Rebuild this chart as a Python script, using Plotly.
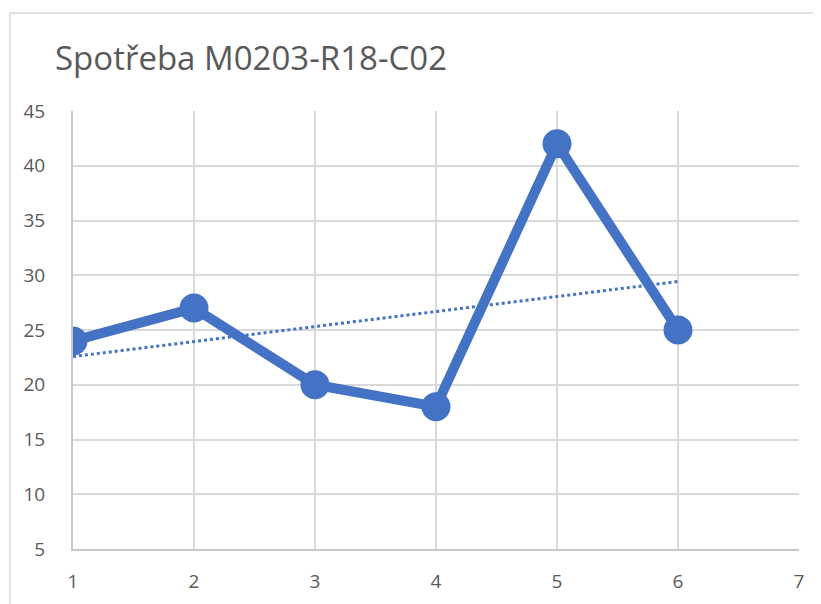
import plotly.graph_objects as go
import numpy as np

x_vals = [1, 2, 3, 4, 5, 6]
y_vals = [24, 27, 20, 18, 42, 25]
title_text = "Spotřeba M0203-R18-C02"
x_ticks = [1, 2, 3, 4, 5, 6, 7]
y_ticks = [5, 10, 15, 20, 25, 30, 35, 40, 45]

# linear trendline (least squares)
slope, intercept = np.polyfit(x_vals, y_vals, 1)
trend_x = [x_vals[0], x_vals[-1]]
trend_y = [slope * v + intercept for v in trend_x]

blue = "#4472C4"
grid = "#d9d9d9"
txt = "#595959"

fig = go.Figure()
fig.add_trace(go.Scatter(x=x_vals, y=y_vals, mode="lines+markers",
                         line=dict(color=blue, width=10),
                         marker=dict(color=blue, size=29),
                         showlegend=False, hoverinfo="skip"))
fig.add_trace(go.Scatter(x=trend_x, y=trend_y, mode="lines",
                         line=dict(color=blue, width=3, dash="dot"),
                         showlegend=False, hoverinfo="skip"))

OFF = 8  # page offset of the figure
W, H = 821, 604
L = 73 - OFF
T = 111 - OFF
R = W - (799 - OFF)
B = H - (549 - OFF)
pw, ph = W - L - R, H - T - B

def px_x(p):
    return (p - OFF - L) / pw

def px_y(p):
    return (H - B - (p - OFF)) / ph

fig.update_layout(
    width=W, height=H,
    margin=dict(l=L, r=R, t=T, b=B),
    paper_bgcolor="white", plot_bgcolor="white",
    font=dict(family="Open Sans", color=txt, size=19),
    title=dict(text=title_text, x=(55 - OFF) / W, xanchor="left",
               y=1 - (58 - OFF) / H, yanchor="middle",
               font=dict(size=33, color=txt, family="Open Sans")),
    xaxis=dict(range=[1, 7], tickvals=x_ticks, showgrid=True, gridcolor=grid,
               gridwidth=2, showline=True, linecolor="#c8c8c8", linewidth=2,
               zeroline=False, ticks="", ticklabelstandoff=14, fixedrange=True,
               tickfont=dict(size=19, color=txt, family="Open Sans")),
    yaxis=dict(range=[5, 45], tickvals=y_ticks, showgrid=True, gridcolor=grid,
               gridwidth=2, showline=True, linecolor="#c8c8c8", linewidth=2,
               zeroline=False, ticks="", ticklabelstandoff=22, fixedrange=True,
               tickfont=dict(size=19, color=txt, family="Open Sans")),
    shapes=[dict(type="rect", xref="paper", yref="paper",
                 x0=px_x(10), x1=px_x(840), y0=px_y(640), y1=px_y(13),
                 line=dict(color=grid, width=1.5), layer="below")],
)

fig.write_html("out.html")
